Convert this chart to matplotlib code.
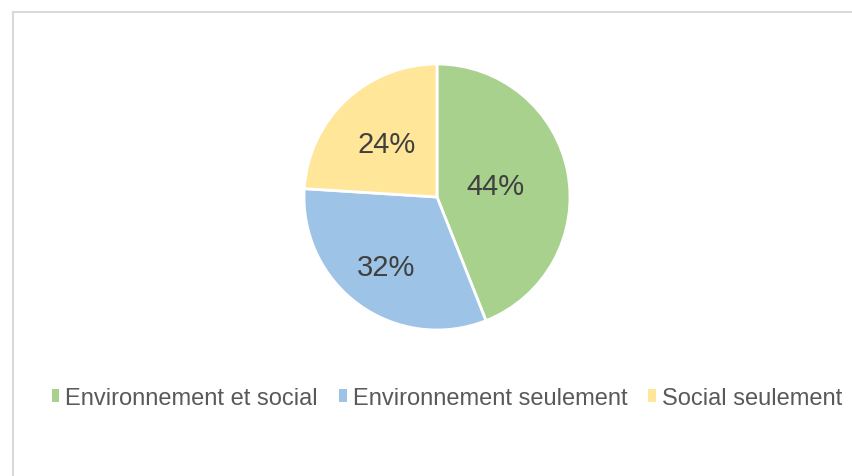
import numpy as np
import matplotlib.pyplot as plt
from matplotlib.patches import Patch
from matplotlib.lines import Line2D

plt.rcParams['font.family'] = ['Liberation Sans', 'DejaVu Sans']

categories = ['Environnement et social', 'Environnement seulement', 'Social seulement']
values = [44, 32, 24]
colors = ['#A9D18E', '#9DC3E6', '#FFE699']
label_dist = [0.45, 0.65, 0.55]

W, H = 853, 477
fig = plt.figure(figsize=(W / 100, H / 100), dpi=100)

# light grey chart border (left and top visible)
fig.add_artist(Line2D([13 / W, 13 / W], [0, 1 - 13 / H], color='#d9d9d9', lw=1.5))
fig.add_artist(Line2D([13 / W, 1], [1 - 13 / H, 1 - 13 / H], color='#d9d9d9', lw=1.5))

cx, cy, r = 437, 198, 133
ax = fig.add_axes([(cx - r) / W, 1 - (cy + r) / H, 2 * r / W, 2 * r / H])
wedges, _ = ax.pie(values, colors=colors, startangle=90, counterclock=False,
                   wedgeprops=dict(edgecolor='white', linewidth=2))
ax.set_xlim(-1, 1)
ax.set_ylim(-1, 1)
ax.set_aspect('equal')
ax.axis('off')

for w, v, d in zip(wedges, values, label_dist):
    ang = np.deg2rad((w.theta1 + w.theta2) / 2)
    ax.text(d * np.cos(ang), d * np.sin(ang), f'{v}%', ha='center', va='center',
            fontsize=21, color='#404040')

handles = [Patch(facecolor=c, edgecolor='none') for c in colors]
fig.legend(handles, categories, loc='center', bbox_to_anchor=(447 / W, 1 - 399 / H),
           ncol=3, frameon=False, fontsize=17, labelcolor='#595959',
           handlelength=0.32, handleheight=0.45, handletextpad=0.25, columnspacing=0.9)

fig.savefig('out.png', dpi=100)
